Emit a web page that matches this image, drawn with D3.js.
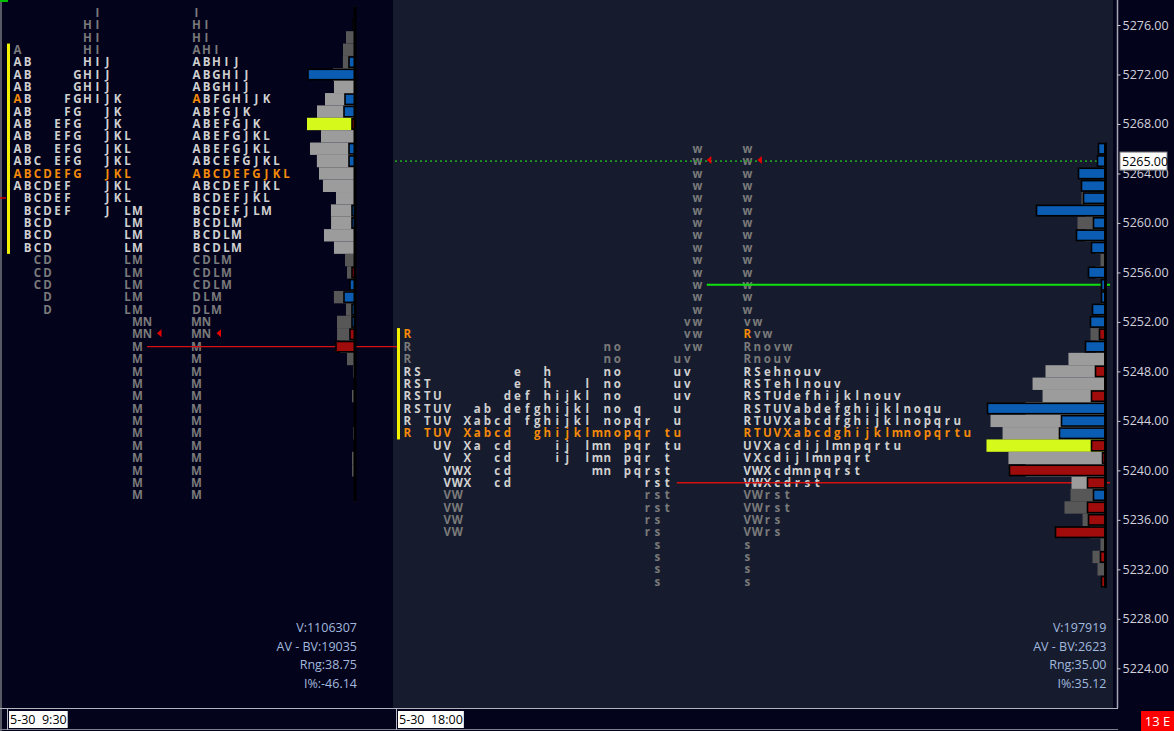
<!DOCTYPE html>
<html>
<head>
<meta charset="utf-8">
<script src="https://cdn.jsdelivr.net/npm/d3@7/dist/d3.min.js"></script>
<style>
  body { margin: 0; background: #03031c; overflow: hidden; }
  svg { display: block; }
  text { font-family: "Open Sans", "Noto Sans", sans-serif; }
</style>
</head>
<body>
<svg id="chart" width="1174" height="731"></svg>
<script>
// ---- data: day session (5-30 9:30) ----
const dayPeriods = "ABCDEFGHIJKLMN"
const dayTop = 5277 // price of first row, one row per point going down
const dayRows = [
  "I", "HI", "HI", "AHI", "ABHIJ", "ABGHIJ", "ABGHIJ", "ABFGHIJK", "ABFGJK", "ABEFGJK",
  "ABEFGJKL", "ABEFGJKL", "ABCEFGJKL", "ABCDEFGJKL", "ABCDEFJKL", "BCDEFJKL", "BCDEFJLM", "BCDLM", "BCDLM", "BCDLM",
  "CDLM", "CDLM", "CDLM", "DLM", "DLM", "MN", "MN", "M", "M", "M",
  "M", "M", "M", "M", "M", "M", "M", "M", "M", "M"
]
const dayVolume = [
  1800, 3500, 15800, 21000, 21200, 38500, 36800, 52500, 66500, 84000,
  59500, 78800, 66700, 63000, 56100, 33300, 42100, 41900, 54300, 36800,
  17500, 14000, 8800, 36900, 15800, 31500, 31400, 26300, 14000, 3500,
  1800, 5300, 1700, 1800, 3500, 1800, 5300, 5200, 1800, 1700
]
const dayDelta = [
  0, 400, 0, 0, 1200, 9400, 0, 2000, 2200, -600,
  0, 1200, 1200, 0, 0, 0, 600, 600, 0, 0,
  0, -600, 1000, 2200, 600, 600, -1000, -3800, 0, 0,
  0, 0, 0, 0, 0, 0, 0, 0, 0, 0
]
const dayStats = ["V:1106307", "AV - BV:19035", "Rng:38.75", "I%:-46.14"]
const dayValueArea = [5258, 5274]
const dayBrightRows = [5258, 5273]
const dayVolumeArea = [5258, 5272]
const dayOpen = 5270
const dayClose = 5251
const dayLevels = [{ price: 5250, kind: "red" }]

// ---- data: evening session (5-30 18:00) ----
const evePeriods = "RSTUVWXabcdefghijklmnopqrstuvw"
const eveTop = 5266
const eveRows = [
  "w", "w", "w", "w", "w", "w", "w", "w", "w", "w",
  "w", "w", "w", "w", "vw", "Rvw", "Rnovw", "Rnouv", "RSehnouv", "RSTehlnouv",
  "RSTUdefhijklnouv", "RSTUVabdefghijklnoqu", "RTUVXabcdfghijklnopqru", "RTUVXabcdghijklmnopqrtu", "UVXacdijlmnpqrtu",
  "VXcdijlmnpqrt", "VWXcdmnpqrst", "VWXcdrst", "VWrst", "VWrst",
  "VWrs", "VWrs", "s", "s", "s", "s"
]
const eveVolume = [
  170, 180, 510, 520, 4080, 3400, 4760, 3390, 1700, 850,
  1710, 340, 510, 860, 1360, 2550, 1700, 6300, 10200, 12400,
  10700, 13600, 19550, 17500, 20230, 16500, 13600, 5780, 5950, 6970,
  3900, 2550, 850, 2210, 1360, 340
]
const eveDelta = [
  140, 160, 540, 480, 440, 1380, 240, 580, 280, 0,
  340, 80, 80, 260, 300, -120, 400, 0, -200, 0,
  -280, 2360, 880, 920, -280, -60, -1920, -360, 240, -360,
  -340, -1000, 0, -100, 0, -80
]
const eveStats = ["V:197919", "AV - BV:2623", "Rng:35.00", "I%:35.12"]
const eveValueArea = [5243, 5251]
const eveBrightRows = [5239, 5248]
const eveVolumeArea = [5239, 5249]
const eveOpen = 5251
const eveClose = 5265
const eveLevels = [
  { price: 5265, kind: "dotted" },
  { price: 5255, kind: "green" },
  { price: 5239, kind: "red" }
]

const priceTicks = [5276, 5272, 5268, 5264, 5260, 5256, 5252, 5248, 5244, 5240, 5236, 5232, 5228, 5224]
const lastPrice = 5265
const timeLabels = ["5-30  9:30", "5-30  18:00"]

// ---- layout ----
const width = 1174, height = 731
const plotBottom = 708
const axisX = 1117.5

const orange = "#f58a0a", bright = "#d0d0d0", dim = "#7a7a7a"

const y = d3.scaleLinear().domain([5276, 5224]).range([25, 668.3])
const rowH = y(0) - y(1)

const svg = d3.select("#chart")

// backgrounds
svg.append("rect").attr("x", 0).attr("y", 0).attr("width", width).attr("height", height).attr("fill", "#03031c")
svg.append("rect").attr("x", 393).attr("y", 0).attr("width", 720).attr("height", plotBottom).attr("fill", "#161c2e")
svg.append("line").attr("x1", 1).attr("x2", 1).attr("y1", 0).attr("y2", height).attr("stroke", "#5a5a66").attr("stroke-width", 2)
svg.append("rect").attr("x", 0).attr("y", 0).attr("width", 8).attr("height", 2).attr("fill", "#00c000")
svg.append("rect").attr("x", 0).attr("y", y(5262) - 1).attr("width", 6).attr("height", 1.5).attr("fill", "#d00000")

const sessions = [
  {
    periods: dayPeriods, top: dayTop, rows: dayRows, vol: dayVolume, delta: dayDelta, stats: dayStats,
    va: dayValueArea, brightRows: dayBrightRows, volArea: dayVolumeArea, open: dayOpen, close: dayClose, levels: dayLevels,
    splitX: 17.5, collX: 196.5, edge: 355, volW: 48, deltaW: 47, statX: 357, vaX: 7, levelEnd: 397
  },
  {
    periods: evePeriods, top: eveTop, rows: eveRows, vol: eveVolume, delta: eveDelta, stats: eveStats,
    va: eveValueArea, brightRows: eveBrightRows, volArea: eveVolumeArea, open: eveOpen, close: eveClose, levels: eveLevels,
    splitX: 407.3, collX: 747.3, edge: 1105.5, volW: 119, deltaW: 118, statX: 1106.5, vaX: 397, levelEnd: 1110
  }
]

const inRange = (p, r) => p >= r[0] && p <= r[1]

sessions.forEach(function (s) {
  const rows = s.rows.map((str, i) => ({ price: s.top - i, str: str, vol: s.vol[i], delta: s.delta[i] }))
  const pocLen = d3.max(rows, r => r.str.length)
  const maxVol = d3.max(rows, r => r.vol)
  const volX = d3.scaleLinear().domain([0, maxVol]).range([0, s.volW])
  const deltaX = d3.scaleLinear().domain([0, d3.max(rows, r => Math.abs(r.delta))]).range([0, s.deltaW])

  const g = svg.append("g")

  // value area bar
  g.append("rect")
    .attr("x", s.vaX).attr("width", 3)
    .attr("y", y(s.va[1]) - rowH / 2)
    .attr("height", y(s.va[0]) - y(s.va[1]) + rowH)
    .attr("fill", "#f2f200")

  // letters
  const letters = []
  rows.forEach(function (r) {
    r.str.split("").forEach(function (ch, i) {
      let color = inRange(r.price, s.brightRows) ? bright : dim
      if (r.str.length === pocLen) color = orange
      if (r.price === s.open && ch === s.periods[0]) color = orange
      letters.push({ price: r.price, ch: ch, idx: i, col: s.periods.indexOf(ch), color: color })
    })
  })

  const drawLetters = function (xf) {
    g.append("g").selectAll("text")
      .data(letters)
      .enter().append("text")
      .attr("x", xf)
      .attr("y", d => y(d.price))
      .attr("dy", "0.36em")
      .attr("text-anchor", "middle")
      .attr("font-size", 11.5)
      .attr("font-weight", "bold")
      .attr("fill", d => d.color)
      .text(d => d.ch)
  }
  drawLetters(d => s.splitX + d.col * 10)
  drawLetters(d => s.collX + d.idx * 10)

  // horizontal reference lines, starting after the split letters of their row
  s.levels.forEach(function (lv) {
    const r = rows.find(r => r.price === lv.price)
    const lastCol = d3.max(r.str.split(""), ch => s.periods.indexOf(ch))
    const x1 = lv.kind === "dotted" ? 395 : s.splitX + lastCol * 10 + 9.5
    g.append("line")
      .attr("x1", x1).attr("x2", s.levelEnd)
      .attr("y1", y(lv.price)).attr("y2", y(lv.price))
      .attr("stroke", lv.kind === "red" ? "#d41010" : (lv.kind === "green" ? "#10e010" : "#1f9a1f"))
      .attr("stroke-width", lv.kind === "dotted" ? 1.6 : (lv.kind === "green" ? 2 : 1.4))
      .attr("stroke-dasharray", lv.kind === "dotted" ? "2,3" : null)
  })

  // close markers
  const closeRow = rows.find(r => r.price === s.close)
  const closeCol = d3.max(closeRow.str.split(""), ch => s.periods.indexOf(ch))
  const tri = function (xTip) {
    const yc = y(s.close) - 1
    g.append("path")
      .attr("d", `M${xTip},${yc} L${xTip + 4.5},${yc - 4} L${xTip + 4.5},${yc + 4} Z`)
      .attr("fill", "#e80000")
  }
  tri(s.splitX + closeCol * 10 + 9.5)
  tri(s.collX + (closeRow.str.length - 1) * 10 + 10)

  // volume profile
  g.append("g").selectAll("rect")
    .data(rows)
    .enter().append("rect")
    .attr("x", d => s.edge - volX(d.vol))
    .attr("y", d => y(d.price) - rowH / 2)
    .attr("width", d => volX(d.vol))
    .attr("height", rowH)
    .attr("fill", d => d.vol === maxVol ? "#d6f91c" : (inRange(d.price, s.volArea) ? "#9c9c9c" : "#575757"))

  g.append("g").selectAll("rect")
    .data(rows.filter(d => d.delta !== 0))
    .enter().append("rect")
    .attr("x", d => s.edge - deltaX(Math.abs(d.delta)))
    .attr("y", d => y(d.price) - rowH / 2 + 1)
    .attr("width", d => deltaX(Math.abs(d.delta)))
    .attr("height", rowH - 2)
    .attr("fill", d => d.delta > 0 ? "#0b5db4" : "#a00c0c")
    .attr("stroke", "#000")
    .attr("stroke-width", 1.6)

  g.append("line")
    .attr("x1", s.edge).attr("x2", s.edge)
    .attr("y1", y(s.top) - rowH / 2)
    .attr("y2", y(s.top - rows.length + 1) + rowH / 2)
    .attr("stroke", "#000").attr("stroke-width", 3)

  // stats
  g.append("g").selectAll("text")
    .data(s.stats)
    .enter().append("text")
    .attr("x", s.statX)
    .attr("y", (d, i) => 632 + i * 18.5)
    .attr("text-anchor", "end")
    .attr("font-size", 12.5)
    .attr("fill", "#a2b9de")
    .text(d => d)
})

// price axis
svg.append("line").attr("x1", axisX).attr("x2", axisX).attr("y1", 0).attr("y2", plotBottom)
  .attr("stroke", "#a4a4b4").attr("stroke-width", 1.5)

const axis = svg.append("g")
  .attr("transform", `translate(${axisX},0)`)
  .call(d3.axisRight(y).tickValues(priceTicks).tickSize(3).tickPadding(2).tickFormat(d3.format(".2f")))
axis.select(".domain").remove()
axis.selectAll(".tick line").attr("stroke", "#c8c8d0")
axis.selectAll(".tick text").attr("fill", "#d2d2dc").attr("font-size", 12.5)
  .attr("font-family", "'Open Sans', sans-serif")

// last price box
const lp = svg.append("g")
lp.append("rect").attr("x", 1120).attr("y", y(lastPrice) - 9).attr("width", 47).attr("height", 18)
  .attr("fill", "#fff").attr("stroke", "#888")
lp.append("text").attr("x", 1122).attr("y", y(lastPrice)).attr("dy", "0.36em")
  .attr("font-size", 12.5).attr("fill", "#000").text(d3.format(".2f")(lastPrice))

// time bar
svg.append("line").attr("x1", 0).attr("x2", 1118).attr("y1", plotBottom + 0.5).attr("y2", plotBottom + 0.5)
  .attr("stroke", "#b4b4c0")
svg.append("line").attr("x1", 0).attr("x2", 1118).attr("y1", 729.5).attr("y2", 729.5)
  .attr("stroke", "#80808c")
const timeX = [9, 398]
timeLabels.forEach(function (t, i) {
  const tg = svg.append("g")
  tg.append("line").attr("x1", timeX[i] - 1.5).attr("x2", timeX[i] - 1.5).attr("y1", plotBottom).attr("y2", 730)
    .attr("stroke", "#b4b4c0")
  const box = tg.append("rect").attr("x", timeX[i]).attr("y", 711).attr("height", 17).attr("fill", "#fff")
  const tx = tg.append("text").attr("x", timeX[i] + 1).attr("y", 724)
    .attr("font-size", 12.5).attr("fill", "#000").style("white-space", "pre").text(t)
  box.attr("width", tx.node().getComputedTextLength() + 2)
})

// session badge
svg.append("rect").attr("x", 1141).attr("y", 711).attr("width", 33).attr("height", 20).attr("fill", "#ff0000")
svg.append("text").attr("x", 1157.5).attr("y", 725.5).attr("text-anchor", "middle")
  .attr("font-size", 13).attr("fill", "#fff").text("13 E")
</script>
</body>
</html>
